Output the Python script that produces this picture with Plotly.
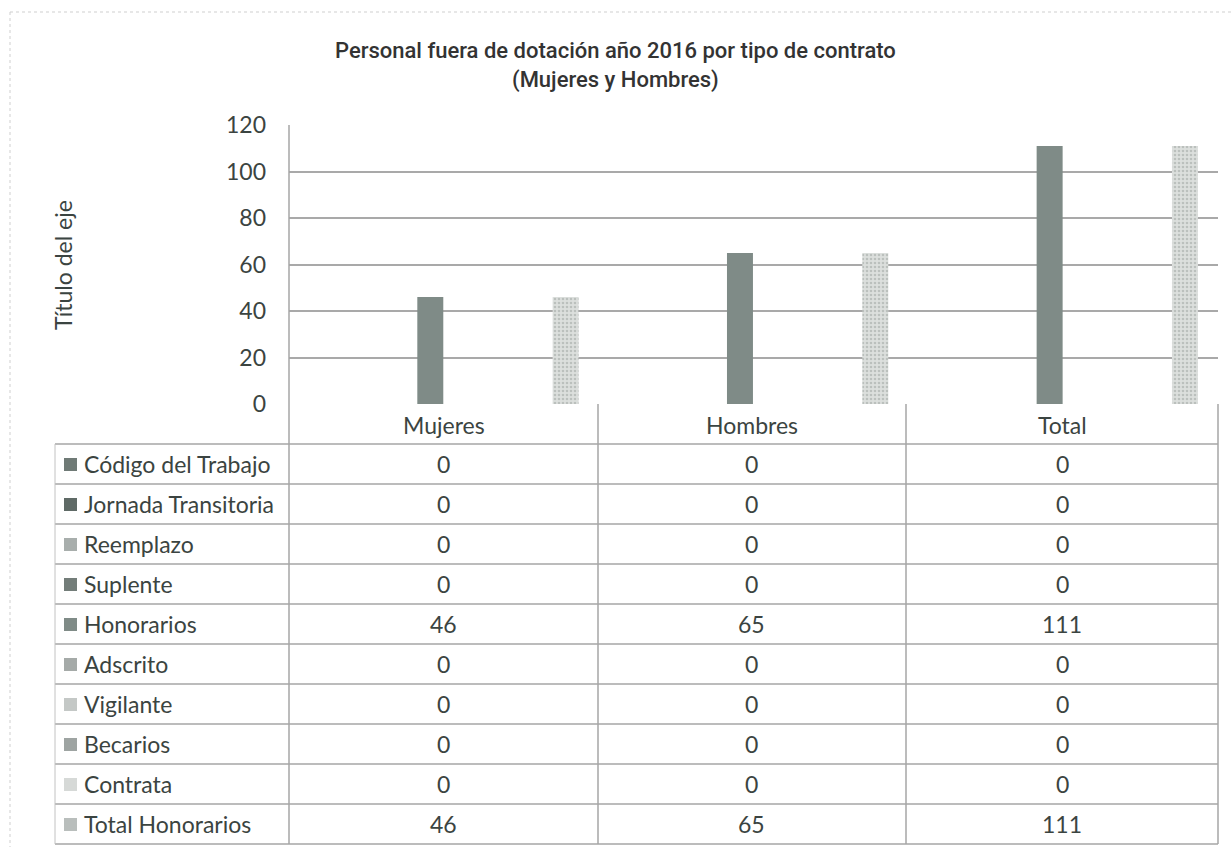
import plotly.graph_objects as go

categories = ["Mujeres", "Hombres", "Total"]
series = ["Código del Trabajo", "Jornada Transitoria", "Reemplazo", "Suplente",
          "Honorarios", "Adscrito", "Vigilante", "Becarios", "Contrata",
          "Total Honorarios"]
mujeres = [0, 0, 0, 0, 46, 0, 0, 0, 0, 46]
hombres = [0, 0, 0, 0, 65, 0, 0, 0, 0, 65]
total = [0, 0, 0, 0, 111, 0, 0, 0, 0, 111]
y_ticks = [0, 20, 40, 60, 80, 100, 120]

colors = ["#6f7a76", "#5f6a66", "#a8aeac", "#737d79", "#7f8b87",
          "#a5aaa8", "#c4c8c6", "#9ea4a2", "#d6d9d7", "#b9bebc"]

W, H = 1231, 847
def px(x): return x / W
def py(y): return 1 - y / H

TXT = "#3b4441"
FONT = "Lato, Open Sans, sans-serif"
LINE = "#a6a6a6"

# table geometry (pixels)
col_edges = [55, 289, 598, 906, 1218]
plot_top, axis_y, header_bottom, row_h = 125, 404, 444, 40

fig = go.Figure()
for i, name in enumerate(series):
    marker = dict(color=colors[i], line=dict(width=0))
    if name == "Total Honorarios":
        marker["pattern"] = dict(shape=".", fgcolor="#9aa19e", bgcolor="#dcdfdd",
                                 size=4, solidity=0.35)
    fig.add_trace(go.Bar(x=categories, y=[mujeres[i], hombres[i], total[i]],
                         name=name, marker=marker, showlegend=False))

shapes = []
annotations = []
n = len(series)
bottom = header_bottom + n * row_h

def hline(y, x0, x1, color=LINE, w=1.5, dash="solid"):
    shapes.append(dict(type="line", xref="paper", yref="paper",
                       x0=px(x0), x1=px(x1), y0=py(y), y1=py(y),
                       line=dict(color=color, width=w, dash=dash)))

def vline(x, y0, y1, color=LINE, w=1.5, dash="solid"):
    shapes.append(dict(type="line", xref="paper", yref="paper",
                       x0=px(x), x1=px(x), y0=py(y0), y1=py(y1),
                       line=dict(color=color, width=w, dash=dash)))

# horizontal row lines
for r in range(n + 1):
    hline(header_bottom + r * row_h, col_edges[0], col_edges[-1])
# vertical lines
vline(col_edges[0], header_bottom, bottom, color="#c2c2c2", w=1)
vline(col_edges[1], plot_top, bottom)
for x in col_edges[2:]:
    vline(x, axis_y, bottom)

def ann(text, x, y, xanchor="center", size=23, angle=0, family=FONT, color=TXT, weight=None):
    f = dict(family=family, size=size, color=color)
    if weight:
        f["weight"] = weight
    annotations.append(dict(text=text, x=px(x), y=py(y), xref="paper", yref="paper",
                            xanchor=xanchor, yanchor="middle", showarrow=False,
                            textangle=angle, font=f))

# header
for c, cat in enumerate(categories):
    ann(cat, (col_edges[c + 1] + col_edges[c + 2]) / 2, (axis_y + header_bottom) / 2 + 1)

# rows
cols = [mujeres, hombres, total]
for r in range(n):
    yc = header_bottom + r * row_h + row_h / 2
    shapes.append(dict(type="rect", xref="paper", yref="paper",
                       x0=px(64), x1=px(77), y0=py(yc - 6), y1=py(yc + 7),
                       fillcolor=colors[r], line=dict(width=0)))
    ann(series[r], 82, yc, xanchor="left")
    for c in range(3):
        ann(str(cols[c][r]), (col_edges[c + 1] + col_edges[c + 2]) / 2, yc)

# title and axis title
ann("Personal fuera de dotación año 2016 por tipo de contrato<br>(Mujeres y Hombres)",
    615, 65, size=22, family="Roboto, Liberation Sans, sans-serif",
    color="#333333", weight=500)
ann("Título del eje", 63, 265, angle=-90, size=23)

# faint outer chart border (scan frame)
hline(12, 10, W, color="#cfcfcf", w=1, dash="dot")
vline(10, 12, H, color="#cfcfcf", w=1, dash="dot")

fig.update_layout(
    width=W, height=H,
    margin=dict(l=0, r=0, t=0, b=0, autoexpand=False),
    paper_bgcolor="white", plot_bgcolor="white",
    barmode="group", bargap=0.126, bargroupgap=0.04,
    xaxis=dict(domain=[px(col_edges[1]), px(col_edges[-1])], showticklabels=False,
               showgrid=False, zeroline=False, showline=False, automargin=False),
    yaxis=dict(domain=[py(axis_y), py(plot_top)], range=[0, 120], tickvals=y_ticks,
               showgrid=True, gridcolor="#a9a9a9", gridwidth=1.5,
               zeroline=False, showline=False, automargin=False,
               ticks="", ticklabelstandoff=22,
               tickfont=dict(family=FONT, size=23, color=TXT)),
    font=dict(family=FONT, color=TXT),
    shapes=shapes,
    annotations=annotations,
)

fig.write_html("out.html", config={"displayModeBar": False},
               post_script="document.body.style.margin='0px';")
